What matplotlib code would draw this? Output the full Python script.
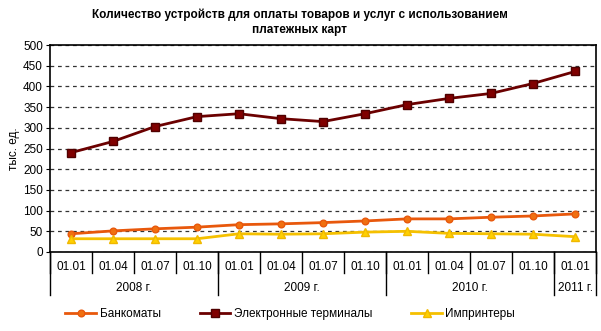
import matplotlib
matplotlib.use("Agg")
import matplotlib.pyplot as plt
import matplotlib.transforms as mtransforms

plt.rcParams['font.family'] = ['Liberation Sans', 'DejaVu Sans']

quarters = ["01.01", "01.04", "01.07", "01.10",
            "01.01", "01.04", "01.07", "01.10",
            "01.01", "01.04", "01.07", "01.10",
            "01.01"]
years = ["2008 г.", "2009 г.", "2010 г.", "2011 г."]
year_counts = [4, 4, 4, 1]

bankomaty = [44, 51, 56, 60, 66, 68, 71, 75, 80, 80, 84, 87, 92]
terminals = [240, 267, 303, 327, 334, 322, 315, 334, 356, 371, 383, 407, 436]
imprinters = [32, 32, 32, 32, 44, 43, 44, 48, 50, 45, 44, 43, 37]

title = "Количество устройств для оплаты товаров и услуг с использованием\nплатежных карт"
ylabel = "тыс. ед."
names = ["Банкоматы", "Электронные терминалы", "Импринтеры"]

fig = plt.figure(figsize=(6.01, 3.31), dpi=100)
ax = fig.add_axes([50/601, 1-252/331, 546/601, 207/331])

x = list(range(len(quarters)))
l1, = ax.plot(x, bankomaty, color='#E8580C', lw=2.0, marker='o', ms=4.8,
              mfc='#F07010', mec='#E8580C', label=names[0], zorder=3)
l2, = ax.plot(x, terminals, color='#6B0000', lw=2.0, marker='s', ms=5.6,
              mfc='#800000', mec='#500000', label=names[1], zorder=3)
l3, = ax.plot(x, imprinters, color='#F5C000', lw=2.0, marker='^', ms=6.2,
              mfc='#FFD000', mec='#F0B800', label=names[2], zorder=3)

ax.set_xlim(-0.5, len(quarters) - 0.5)
ax.set_ylim(0, 500)
ax.set_yticks(range(0, 501, 50))
ax.yaxis.grid(True, linestyle=(0, (3, 3)), color='#333333', lw=0.9)
ax.set_axisbelow(True)
for s in ax.spines.values():
    s.set_color('black')
    s.set_linewidth(1.2)
ax.tick_params(axis='y', direction='out', length=3, labelsize=8.5, pad=2)
ax.set_xticks([])
ax.set_ylabel(ylabel, fontsize=8.5, labelpad=2)

trans = mtransforms.blended_transform_factory(ax.transData, ax.transAxes)
for i, q in enumerate(quarters):
    ax.text(i, -0.071, q, transform=trans, ha='center', va='center', fontsize=8.5)
for k in range(len(quarters) + 1):
    ax.plot([k - 0.5, k - 0.5], [0, -0.101], transform=trans, color='black',
            lw=1.0, clip_on=False)
start = 0
bounds = [0]
for y, c in zip(years, year_counts):
    ax.text(start + c/2 - 0.5, -0.172, y, transform=trans, ha='center',
            va='center', fontsize=8.5)
    start += c
    bounds.append(start)
for b in bounds:
    ax.plot([b - 0.5, b - 0.5], [0, -0.208], transform=trans, color='black',
            lw=1.0, clip_on=False)

fig.text(0.499, 1-22/331, title, ha='center', va='center', fontsize=8.5,
         fontweight='bold', linespacing=1.3)

fig.legend(handles=[l1, l2, l3], loc='center', bbox_to_anchor=(0.483, 1-314/331),
           ncol=3, frameon=False, fontsize=8.5, handlelength=2.6,
           columnspacing=3.3, handletextpad=0.3)

fig.savefig("out.png", dpi=100)
